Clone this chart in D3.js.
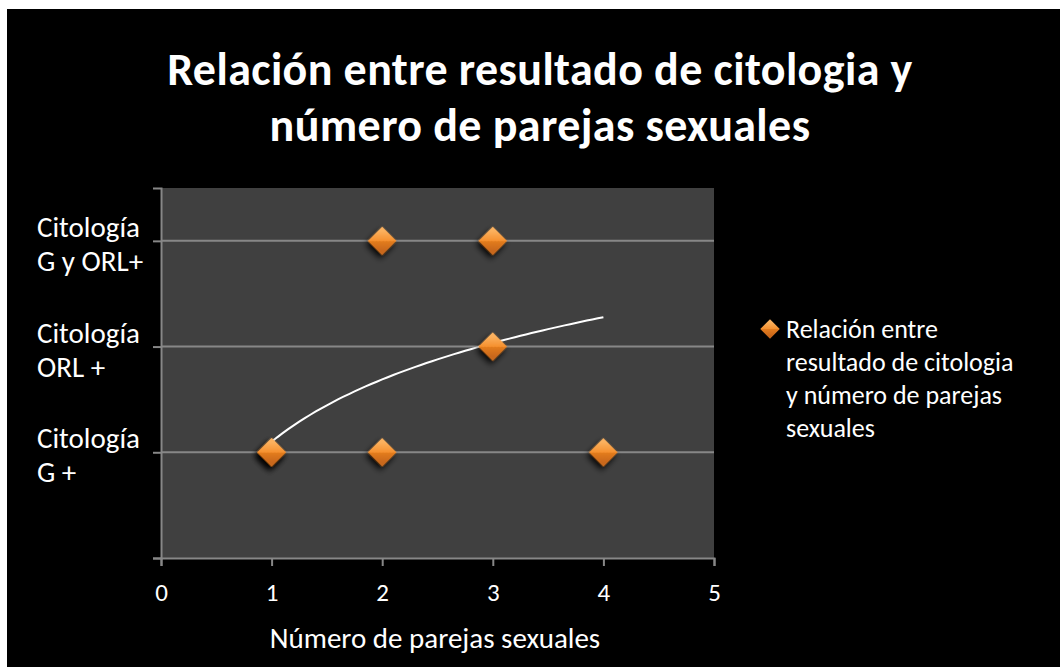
<!DOCTYPE html>
<html>
<head>
<meta charset="utf-8">
<script src="https://cdn.jsdelivr.net/npm/d3@7"></script>
<style>
  body { margin: 0; background: #ffffff; }
  svg text { font-family: Carlito, Calibri, Lato, "Open Sans", sans-serif; fill: #ffffff; }
</style>
</head>
<body>
<div id="chart"></div>
<script>
var svgWidth = 1060;
var svgHeight = 667;

// data
var xValues = [1, 1, 2, 4, 2, 3, 3];
var yValues = [1, 1, 1, 1, 3, 3, 2];
var yCategories = [
  { value: 1, lines: ["Citología", "G +"] },
  { value: 2, lines: ["Citología", "ORL +"] },
  { value: 3, lines: ["Citología", "G y ORL+"] }
];
var xTicks = [0, 1, 2, 3, 4, 5];
var titleLines = ["Relación entre resultado de citologia y", "número de parejas sexuales"];
var xTitle = "Número de parejas sexuales";
var legendLines = ["Relación entre", "resultado de citologia", "y número de parejas", "sexuales"];
// logarithmic trend line (y = a + b ln x) as drawn in the picture, x from 1 to 4
var trendA = 1.10;
var trendB = 0.85;
var trendRange = [1, 4];

var margin = { top: 188, right: 346, bottom: 109, left: 161 };
var width = svgWidth - margin.left - margin.right;
var height = svgHeight - margin.top - margin.bottom;

var svg = d3.select("#chart")
  .append("svg")
  .attr("width", svgWidth)
  .attr("height", svgHeight);

// black chart background (white margin on top/left like the original)
svg.append("rect")
  .attr("x", 7).attr("y", 9)
  .attr("width", svgWidth - 7).attr("height", svgHeight - 9)
  .attr("fill", "#000000");

var defs = svg.append("defs");
var grad = defs.append("linearGradient")
  .attr("id", "diamondFill")
  .attr("x1", 0).attr("y1", 0).attr("x2", 0).attr("y2", 1)
  .attr("gradientTransform", "rotate(-45 0.5 0.5)");
grad.append("stop").attr("offset", "0%").attr("stop-color", "#fbb15e");
grad.append("stop").attr("offset", "50%").attr("stop-color", "#f5902f");
grad.append("stop").attr("offset", "50%").attr("stop-color", "#e47d1f");
grad.append("stop").attr("offset", "100%").attr("stop-color", "#c8671a");

var shadow = defs.append("filter").attr("id", "shadow")
  .attr("x", "-50%").attr("y", "-50%").attr("width", "200%").attr("height", "200%");
shadow.append("feGaussianBlur").attr("in", "SourceAlpha").attr("stdDeviation", 3);
shadow.append("feOffset").attr("dx", 1).attr("dy", 4).attr("result", "blur");
shadow.append("feComponentTransfer").append("feFuncA").attr("type", "linear").attr("slope", 0.95);
var merge = shadow.append("feMerge");
merge.append("feMergeNode");
merge.append("feMergeNode").attr("in", "SourceGraphic");

// title
svg.append("g").selectAll("text")
  .data(titleLines)
  .enter()
  .append("text")
  .attr("x", 540)
  .attr("y", (d, i) => 85 + i * 56)
  .attr("text-anchor", "middle")
  .style("font-size", "46px")
  .style("font-weight", "bold")
  .style("letter-spacing", "0.4px")
  .text(d => d);

var chartGroup = svg.append("g")
  .attr("transform", `translate(${margin.left}, ${margin.top})`);

var xScale = d3.scaleLinear().domain([0, 5]).range([0, width]);
var yScale = d3.scaleLinear().domain([0, 3.5]).range([height, 0]);

// plot area
chartGroup.append("rect")
  .attr("width", width)
  .attr("height", height)
  .attr("fill", "#404040");

// gridlines
chartGroup.append("g")
  .selectAll("line")
  .data(yCategories)
  .enter()
  .append("line")
  .attr("x1", 0).attr("x2", width)
  .attr("y1", d => yScale(d.value)).attr("y2", d => yScale(d.value))
  .attr("stroke", "#878787")
  .attr("stroke-width", 2);

// x axis
var xAxis = chartGroup.append("g")
  .attr("transform", `translate(0, ${height})`)
  .call(d3.axisBottom(xScale).tickValues(xTicks).tickSize(8).tickPadding(17).tickFormat(d3.format("d")));
xAxis.select(".domain").attr("stroke", "#878787").attr("stroke-width", 2);
xAxis.selectAll(".tick line").attr("stroke", "#878787").attr("stroke-width", 2);
xAxis.selectAll(".tick text")
  .attr("fill", "#ffffff")
  .style("font-size", "25px")
  .style("font-family", "Carlito, Calibri, Lato, sans-serif");

// y axis
var yAxis = chartGroup.append("g")
  .call(d3.axisLeft(yScale).tickValues([0, 1, 2, 3]).tickSize(8).tickFormat(""));
yAxis.select(".domain").attr("stroke", "#878787").attr("stroke-width", 2);
yAxis.selectAll(".tick line").attr("stroke", "#878787").attr("stroke-width", 2);

// y category labels (two lines, left aligned)
var yLabels = svg.append("g")
  .selectAll("text")
  .data(yCategories)
  .enter()
  .append("text")
  .attr("x", 37)
  .attr("y", d => margin.top + yScale(d.value) - 4)
  .style("font-size", "29px");
yLabels.selectAll("tspan")
  .data(d => d.lines)
  .enter()
  .append("tspan")
  .attr("x", 37)
  .attr("dy", (d, i) => i === 0 ? 0 : 34)
  .text(d => d);

// x axis title
svg.append("text")
  .attr("x", 435)
  .attr("y", 648)
  .attr("text-anchor", "middle")
  .style("font-size", "29px")
  .text(xTitle);

// trend line
var trendPoints = d3.range(trendRange[0], trendRange[1] + 0.001, 0.05)
  .map(x => [x, trendA + trendB * Math.log(x)]);
chartGroup.append("path")
  .datum(trendPoints)
  .attr("fill", "none")
  .attr("stroke", "#ffffff")
  .attr("stroke-width", 2)
  .attr("d", d3.line().x(d => xScale(d[0])).y(d => yScale(d[1])));

// diamond markers
var diamond = d3.symbol().type(d3.symbolSquare).size(410);
chartGroup.append("g")
  .selectAll("path")
  .data(xValues.map((x, i) => [x, yValues[i]]))
  .enter()
  .append("path")
  .attr("d", diamond)
  .attr("transform", d => `translate(${xScale(d[0])}, ${yScale(d[1])}) rotate(45)`)
  .attr("fill", "url(#diamondFill)")
  .attr("filter", "url(#shadow)");

// legend
var legend = svg.append("g").attr("transform", "translate(770, 329)");
legend.append("path")
  .attr("d", d3.symbol().type(d3.symbolSquare).size(190))
  .attr("transform", "rotate(45)")
  .attr("fill", "url(#diamondFill)");
var legendText = legend.append("text")
  .attr("x", 16)
  .attr("y", 9)
  .style("font-size", "26px");
legendText.selectAll("tspan")
  .data(legendLines)
  .enter()
  .append("tspan")
  .attr("x", 16)
  .attr("dy", (d, i) => i === 0 ? 0 : 33)
  .text(d => d);
</script>
</body>
</html>
